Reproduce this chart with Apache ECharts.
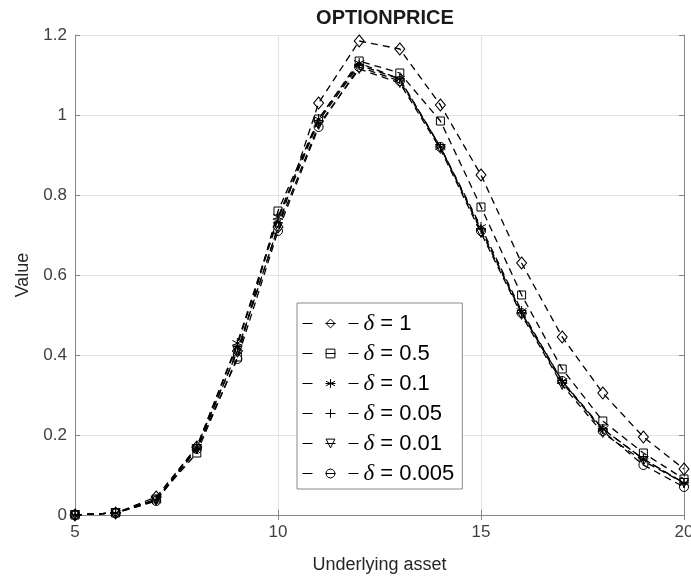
<!DOCTYPE html>
<html>
<head>
<meta charset="utf-8">
<title>OPTIONPRICE</title>
<script src="https://cdn.jsdelivr.net/npm/echarts@6/dist/echarts.min.js"></script>
<style>
  html, body { margin: 0; padding: 0; background: #fff; }
  #chart { width: 691px; height: 578px; }
</style>
</head>
<body>
<div id="chart"></div>
<script>
// Underlying asset prices (x axis)
const assetPrices = [5, 6, 7, 8, 9, 10, 11, 12, 13, 14, 15, 16, 17, 18, 19, 20];

// Option value for each smoothing parameter delta
const deltaLabels = ['δ = 1', 'δ = 0.5', 'δ = 0.1', 'δ = 0.05', 'δ = 0.01', 'δ = 0.005'];
const valuesDelta1    = [0, 0.005, 0.045, 0.170, 0.410, 0.720, 1.030, 1.185, 1.165, 1.025, 0.850, 0.630, 0.445, 0.305, 0.195, 0.115];
const valuesDelta05   = [0, 0.005, 0.040, 0.155, 0.395, 0.760, 0.990, 1.135, 1.105, 0.985, 0.770, 0.550, 0.365, 0.235, 0.155, 0.090];
const valuesDelta01   = [0, 0.005, 0.038, 0.170, 0.430, 0.745, 0.990, 1.130, 1.090, 0.920, 0.720, 0.510, 0.335, 0.215, 0.140, 0.080];
const valuesDelta005  = [0, 0.005, 0.038, 0.170, 0.425, 0.740, 0.985, 1.125, 1.090, 0.920, 0.715, 0.505, 0.330, 0.215, 0.140, 0.080];
const valuesDelta001  = [0, 0.005, 0.036, 0.165, 0.410, 0.720, 0.975, 1.115, 1.080, 0.915, 0.705, 0.500, 0.325, 0.205, 0.135, 0.080];
const valuesDelta0005 = [0, 0.005, 0.035, 0.165, 0.390, 0.710, 0.970, 1.120, 1.085, 0.920, 0.710, 0.505, 0.335, 0.210, 0.125, 0.070];

// Axis ticks
const xTicks = [5, 10, 15, 20];
const yTicks = [0, 0.2, 0.4, 0.6, 0.8, 1, 1.2];

const seriesValues = [valuesDelta1, valuesDelta05, valuesDelta01, valuesDelta005, valuesDelta001, valuesDelta0005];

// Marker shapes (hollow, stroked)
const markerDefs = [
  { symbol: 'diamond', size: [10, 12], rotate: 0 },
  { symbol: 'rect', size: 8, rotate: 0 },
  { symbol: 'path://M5 0 L5 10 M0.67 2.5 L9.33 7.5 M0.67 7.5 L9.33 2.5', size: 10, rotate: 0 },
  { symbol: 'path://M5 0 L5 10 M0 5 L10 5', size: 10, rotate: 0 },
  { symbol: 'triangle', size: 9, rotate: 180 },
  { symbol: 'circle', size: 9, rotate: 0 }
];

const FONT = 'Liberation Sans, Arial, sans-serif';

const series = deltaLabels.map((name, i) => ({
  name: name,
  type: 'line',
  data: assetPrices.map((x, j) => [x, seriesValues[i][j]]),
  symbol: markerDefs[i].symbol,
  symbolSize: markerDefs[i].size,
  symbolRotate: markerDefs[i].rotate,
  showAllSymbol: true,
  lineStyle: { color: '#000', width: 1.3, type: [7, 5] },
  itemStyle: { color: 'none', borderColor: '#000', borderWidth: 1 },
  emphasis: { disabled: true },
  animation: false,
  z: 3
}));

const chart = echarts.init(document.getElementById('chart'), null, { renderer: 'canvas' });

const axisGray = '#858585';

chart.setOption({
  backgroundColor: '#fff',
  animation: false,
  title: {
    text: 'OPTIONPRICE',
    left: 380,
    top: 3,
    textAlign: 'center',
    textStyle: { fontFamily: FONT, fontSize: 20, fontWeight: 'bold', color: '#1a1a1a' }
  },
  grid: { left: 75, top: 35, right: 7, bottom: 63, containLabel: false, outerBoundsMode: 'none' },
  legend: {
    orient: 'vertical',
    left: 297,
    top: 303,
    padding: [9, 8, 4, 5],
    itemGap: 7,
    itemWidth: 56,
    itemHeight: 11,
    backgroundColor: '#fff',
    borderColor: '#8a8a8a',
    borderWidth: 1,
    data: deltaLabels,
    lineStyle: { width: 1, type: [10, 13], color: '#000' },
    itemStyle: { color: 'none', borderColor: '#000', borderWidth: 1 },
    formatter: (name) => '{d|δ}' + name.slice(1),
    textStyle: {
      fontFamily: FONT,
      fontSize: 22,
      color: '#000',
      rich: {
        d: { fontFamily: 'Liberation Serif', fontStyle: 'italic', fontSize: 23, color: '#000' }
      }
    },
    selectedMode: false
  },
  xAxis: [
    {
      type: 'value',
      min: 5,
      max: 20,
      interval: 5,
      name: 'Underlying asset',
      nameLocation: 'middle',
      nameGap: 41,
      nameTextStyle: { fontFamily: FONT, fontSize: 18, color: '#262626' },
      axisLine: { show: true, lineStyle: { color: axisGray, width: 1 } },
      axisTick: { show: true, inside: true, length: 5, lineStyle: { color: axisGray } },
      axisLabel: {
        fontFamily: FONT, fontSize: 17, color: '#404040', margin: 9,
        formatter: (v) => xTicks.includes(v) ? String(v) : ''
      },
      splitLine: { show: true, lineStyle: { color: '#e3e3e3', width: 1 } }
    },
    {
      type: 'value',
      position: 'top',
      min: 5,
      max: 20,
      interval: 5,
      axisLine: { show: true, lineStyle: { color: axisGray, width: 1 } },
      axisTick: { show: true, inside: true, length: 5, lineStyle: { color: axisGray } },
      axisLabel: { show: false },
      splitLine: { show: false }
    }
  ],
  yAxis: [
    {
      type: 'value',
      min: 0,
      max: 1.2,
      interval: 0.2,
      name: 'Value',
      nameLocation: 'middle',
      nameGap: 43,
      nameTextStyle: { fontFamily: FONT, fontSize: 18, color: '#262626' },
      axisLine: { show: true, lineStyle: { color: axisGray, width: 1 } },
      axisTick: { show: true, inside: true, length: 5, lineStyle: { color: axisGray } },
      axisLabel: {
        fontFamily: FONT, fontSize: 17, color: '#404040', margin: 8,
        formatter: (v) => {
          const t = yTicks.find(k => Math.abs(k - v) < 1e-9);
          return t === undefined ? '' : String(t);
        }
      },
      splitLine: { show: true, lineStyle: { color: '#e3e3e3', width: 1 } }
    },
    {
      type: 'value',
      position: 'right',
      min: 0,
      max: 1.2,
      interval: 0.2,
      axisLine: { show: true, lineStyle: { color: axisGray, width: 1 } },
      axisTick: { show: true, inside: true, length: 5, lineStyle: { color: axisGray } },
      axisLabel: { show: false },
      splitLine: { show: false }
    }
  ],
  series: series
});
</script>
</body>
</html>
